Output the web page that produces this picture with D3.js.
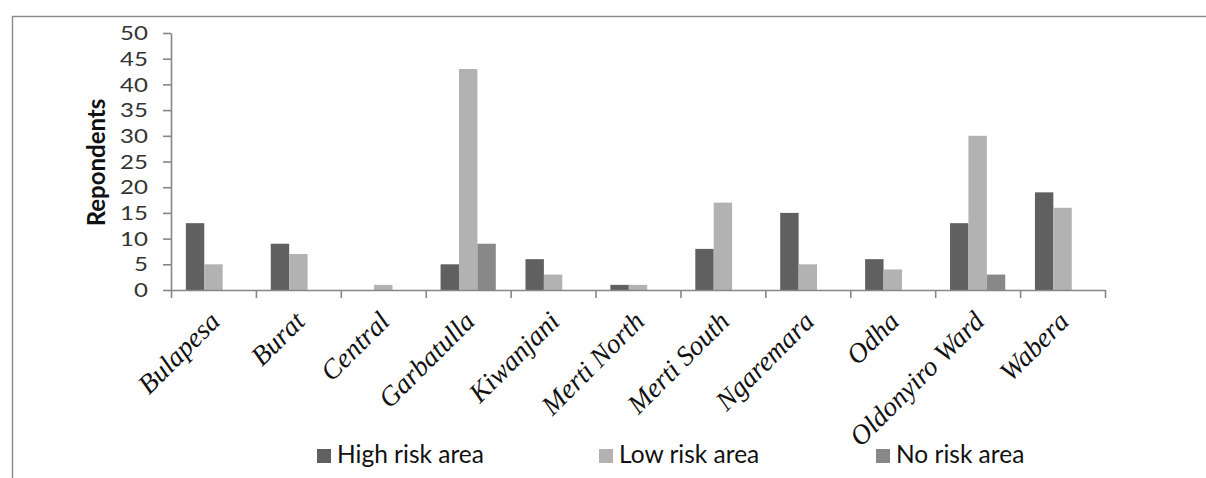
<!DOCTYPE html>
<html>
<head>
<meta charset="utf-8">
<script src="https://cdn.jsdelivr.net/npm/d3@7"></script>
<style>
  html, body { margin: 0; padding: 0; background: #fff; }
  svg { display: block; }
</style>
</head>
<body>
<svg id="chart" width="1206" height="478"></svg>
<script>
// Respondents per ward, split by risk area
const categories = ["Bulapesa", "Burat", "Central", "Garbatulla", "Kiwanjani", "Merti North",
                    "Merti South", "Ngaremara", "Odha", "Oldonyiro Ward", "Wabera"];
const seriesNames = ["High risk area", "Low risk area", "No risk area"];
const highRisk = [13, 9, 0, 5, 6, 1, 8, 15, 6, 13, 19];
const lowRisk  = [5, 7, 1, 43, 3, 1, 17, 5, 4, 30, 16];
const noRisk   = [0, 0, 0, 9, 0, 0, 0, 0, 0, 3, 0];
const yTicks = [0, 5, 10, 15, 20, 25, 30, 35, 40, 45, 50];
const yTitle = "Repondents";

const seriesValues = [highRisk, lowRisk, noRisk];
const colors = ["#606060", "#b2b2b2", "#888888"];

const svg = d3.select("#chart");

// outer chart frame (top and left edges visible)
svg.append("path")
  .attr("d", "M12.5,478 V16.5 H1206")
  .attr("fill", "none")
  .attr("stroke", "#8a8a8a")
  .attr("stroke-width", 1.4);

const plot = { left: 171, right: 1105, top: 33, bottom: 290 };

const y = d3.scaleLinear().domain([0, 50]).range([plot.bottom, plot.top]);
const x0 = d3.scaleBand().domain(categories).range([plot.left, plot.right]).padding(0);
const x1 = d3.scaleBand().domain(seriesNames).range([0, x0.bandwidth()])
  .paddingInner(0).paddingOuter(0.807);

// bars
const rows = categories.map((c, i) => seriesNames.map((s, j) => ({ c, s, v: seriesValues[j][i], j })));
svg.append("g").selectAll("g")
  .data(rows)
  .join("g")
  .attr("transform", d => `translate(${x0(d[0].c)},0)`)
  .selectAll("rect")
  .data(d => d.filter(e => e.v > 0))
  .join("rect")
  .attr("x", d => x1(d.s))
  .attr("y", d => y(d.v))
  .attr("width", x1.bandwidth())
  .attr("height", d => y(0) - y(d.v))
  .attr("fill", d => colors[d.j]);

// y axis
const yAxis = svg.append("g")
  .attr("transform", `translate(${plot.left},0)`)
  .call(d3.axisLeft(y).tickValues(yTicks).tickSize(8).tickSizeOuter(0));
yAxis.select(".domain").attr("stroke", "#868686").attr("stroke-width", 1.6);
yAxis.selectAll(".tick line").attr("stroke", "#868686").attr("stroke-width", 1.6);
yAxis.selectAll(".tick text")
  .attr("x", 0)
  .attr("dy", "0.36em")
  .attr("transform", "translate(-23,0) scale(1.3,1)")
  .attr("text-anchor", "end")
  .attr("fill", "#333")
  .style("font-family", "Lato, 'Open Sans', sans-serif")
  .style("font-size", "18.5px");

// x axis: ticks sit on category boundaries
const xEdges = d3.scaleLinear().domain([0, categories.length]).range([plot.left, plot.right]);
const xAxis = svg.append("g")
  .attr("transform", `translate(0,${plot.bottom})`)
  .call(d3.axisBottom(xEdges).tickValues(d3.range(0, categories.length + 1)).tickSize(8).tickSizeOuter(0).tickFormat(""));
xAxis.select(".domain").attr("stroke", "#868686").attr("stroke-width", 1.6);
xAxis.selectAll(".tick line").attr("stroke", "#868686").attr("stroke-width", 1.6);

// category labels, rotated
svg.append("g").selectAll("text")
  .data(categories)
  .join("text")
  .attr("transform", d => `translate(${x0(d) + x0.bandwidth() / 2 + 8},${plot.bottom + 33}) rotate(-45)`)
  .attr("text-anchor", "end")
  .attr("fill", "#111")
  .style("font-family", "'Liberation Serif', 'Times New Roman', serif")
  .style("font-style", "italic")
  .style("font-size", "27.5px")
  .text(d => d);

// y axis title
svg.append("text")
  .attr("transform", "translate(105,162.5) rotate(-90)")
  .attr("text-anchor", "middle")
  .attr("fill", "#111")
  .style("font-family", "Lato, 'Open Sans', sans-serif")
  .style("font-weight", "bold")
  .style("font-size", "24px")
  .text(yTitle);

// legend
const legendX = [317, 599, 876];
const legend = svg.append("g").selectAll("g")
  .data(seriesNames)
  .join("g")
  .attr("transform", (d, i) => `translate(${legendX[i]},449)`);
legend.append("rect")
  .attr("width", 14).attr("height", 14)
  .attr("fill", (d, i) => colors[i]);
legend.append("text")
  .attr("x", 20).attr("y", 14)
  .attr("fill", "#111")
  .style("font-family", "Lato, 'Open Sans', sans-serif")
  .style("font-size", "24.5px")
  .text(d => d);
</script>
</body>
</html>
